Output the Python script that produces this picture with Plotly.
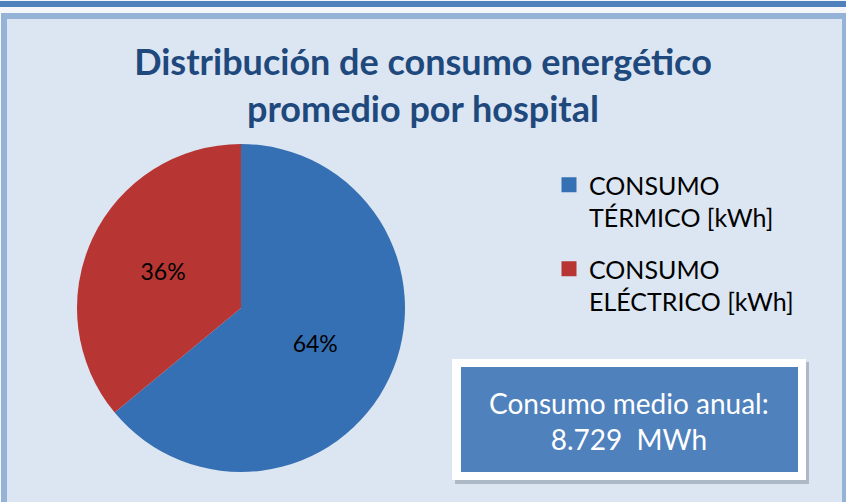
import plotly.graph_objects as go

W, H = 846, 502

labels = ["CONSUMO<br>TÉRMICO [kWh]", "CONSUMO<br>ELÉCTRICO [kWh]"]
values = [64, 36]
colors = ["#3670b4", "#b73633"]
title_text = "Distribución de consumo energético<br>promedio por hospital"
box_text = "Consumo medio anual:<br>8.729  MWh"

FONT = "Lato"

def px(x):
    return x / W

def py(y):
    return 1 - y / H

fig = go.Figure()
fig.add_trace(
    go.Pie(
        labels=labels,
        values=values,
        sort=False,
        direction="clockwise",
        rotation=0,
        marker=dict(colors=colors, line=dict(width=0)),
        textinfo="percent",
        textposition="inside",
        insidetextorientation="horizontal",
        textfont=dict(family=FONT, size=23, color="#000000"),
        domain=dict(x=[px(77), px(405)], y=[py(472), py(144)]),
        hoverinfo="label+percent",
        showlegend=False,
    )
)

# legend entries (one group per slice so the gap between entries can be set)
for lab, col in zip(labels, colors):
    fig.add_trace(
        go.Scatter(
            x=[None], y=[None], mode="markers", name=lab, legendgroup=lab,
            marker=dict(symbol="square", size=15, color=col),
            hoverinfo="skip",
        )
    )

shapes = [
    dict(type="rect", xref="paper", yref="paper", x0=0, x1=1, y0=py(7), y1=py(1),
         fillcolor="#4f81bd", line=dict(width=0), layer="below"),
    dict(type="rect", xref="paper", yref="paper", x0=px(1), x1=1, y0=0, y1=py(13),
         fillcolor="#95b3d7", line=dict(width=0), layer="below"),
    dict(type="rect", xref="paper", yref="paper", x0=px(7), x1=px(842), y0=0, y1=py(19),
         fillcolor="#dce6f2", line=dict(width=0), layer="below"),
    dict(type="rect", xref="paper", yref="paper", x0=px(455), x1=px(809), y0=py(484), y1=py(362),
         fillcolor="rgba(90,100,120,0.35)", line=dict(width=0), layer="above"),
    dict(type="rect", xref="paper", yref="paper", x0=px(452), x1=px(806), y0=py(480), y1=py(359),
         fillcolor="#ffffff", line=dict(width=0), layer="above"),
    dict(type="rect", xref="paper", yref="paper", x0=px(461), x1=px(798), y0=py(472), y1=py(367),
         fillcolor="#4f81bd", line=dict(width=0), layer="above"),
]

fig.update_layout(
    width=W,
    height=H,
    margin=dict(l=0, r=0, t=0, b=0),
    paper_bgcolor="#f4f6f9",
    plot_bgcolor="rgba(0,0,0,0)",
    xaxis=dict(visible=False),
    yaxis=dict(visible=False),
    title=dict(
        text=title_text,
        x=0.5,
        xanchor="center",
        y=py(75),
        yanchor="middle",
        font=dict(family=FONT, size=36, color="#1f497d", weight="bold"),
    ),
    legend=dict(
        x=px(549),
        y=py(162),
        xanchor="left",
        yanchor="top",
        valign="top",
        traceorder="grouped",
        tracegroupgap=16,
        bgcolor="rgba(0,0,0,0)",
        font=dict(family=FONT, size=25, color="#000000"),
    ),
    shapes=shapes,
    annotations=[
        dict(
            text=box_text,
            xref="paper", yref="paper",
            x=px(629), y=py(421),
            xanchor="center", yanchor="middle",
            showarrow=False,
            font=dict(family=FONT, size=28, color="#ffffff"),
        )
    ],
)

fig.write_html(
    "out.html",
    config={"displayModeBar": False},
    post_script="document.body.style.margin='0px';",
)
